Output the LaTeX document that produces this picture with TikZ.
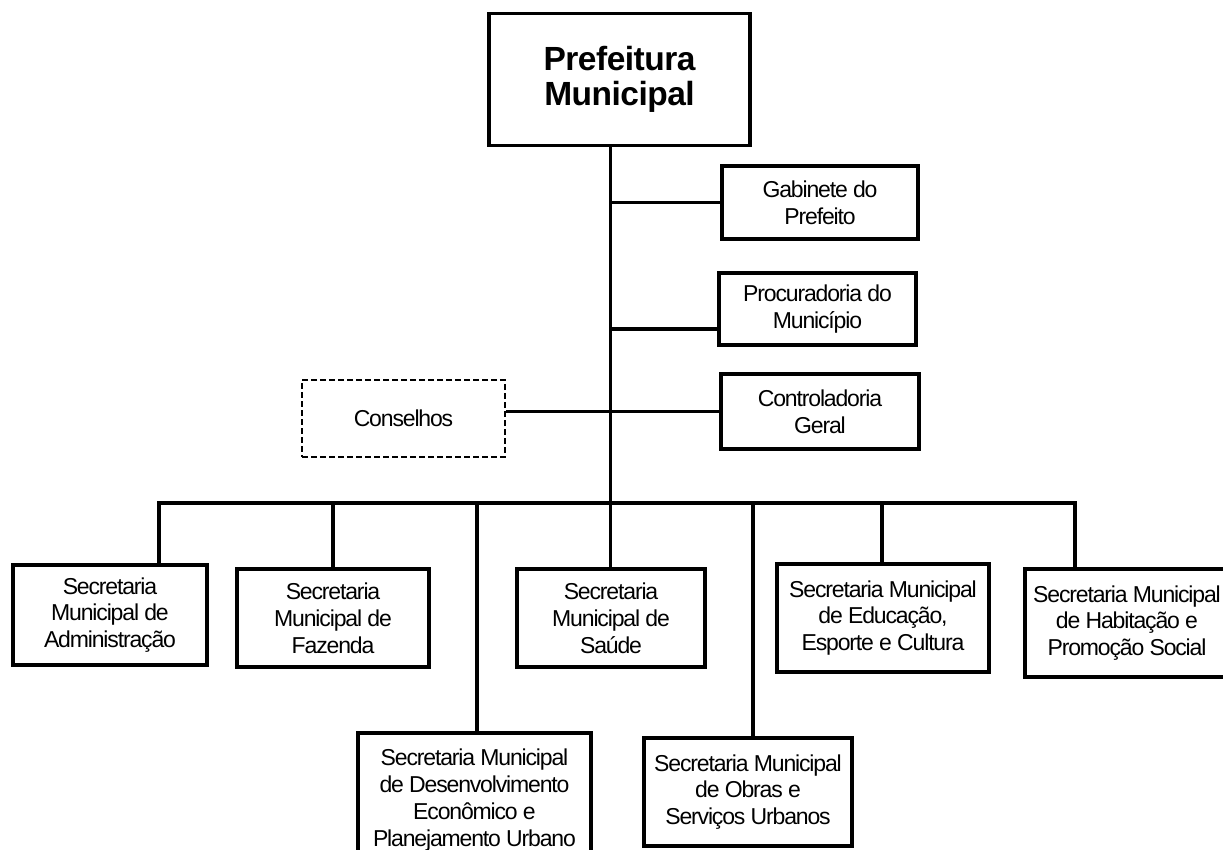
\documentclass[tikz,border=0pt]{standalone}
\usepackage{fontspec}
\newfontfamily\orgfont{Liberation Sans}[LetterSpace=-5]
\newfontfamily\orgheadfont{Liberation Sans}[LetterSpace=-1.5]
\begin{document}
\begin{tikzpicture}[x=1pt,y=-1pt,
  unitbox/.style={draw=black, line width=3.2pt, fill=white, inner sep=0pt, align=center,
    font=\orgfont\fontsize{23}{26.8}\selectfont},
  headbox/.style={unitbox, line width=3.8pt,
    font=\orgheadfont\bfseries\fontsize{33.5}{35}\selectfont},
  councilbox/.style={unitbox, line width=1.5pt, dash pattern=on 6pt off 3pt},
  conn/.style={draw=black, line width=3.2pt}]
\useasboundingbox (0,0) rectangle (1223,850);
\clip (0,0) rectangle (1223,850);

% boxes
\node[headbox, minimum width=261pt, minimum height=132pt] (pref) at (619.5,79.5) {Prefeitura\\Municipal};
\node[unitbox, minimum width=196pt, minimum height=73pt] (gab) at (820,202.5) {Gabinete do\\Prefeito};
\node[unitbox, minimum width=197pt, minimum height=72pt] (proc) at (817.5,309) {Procuradoria do\\Município};
\node[unitbox, minimum width=198pt, minimum height=75pt] (ctrl) at (820,411.5) {Controladoria\\Geral};
\node[councilbox, minimum width=203pt, minimum height=77pt] (cons) at (403.5,418.5) {Conselhos};

\node[unitbox, minimum width=194pt, minimum height=100pt] (adm) at (110,615) {Secretaria\\Municipal de\\Administração};
\node[unitbox, minimum width=192pt, minimum height=98pt] (faz) at (333,618) {Secretaria\\Municipal de\\Fazenda};
\node[unitbox, minimum width=188pt, minimum height=98pt] (sau) at (611,618) {Secretaria\\Municipal de\\Saúde};
\node[unitbox, minimum width=212pt, minimum height=108pt] (edu) at (883,618) {Secretaria Municipal\\de Educação,\\Esporte e Cultura};
\node[unitbox, minimum width=204pt, minimum height=108pt] (hab) at (1127,623) {Secretaria Municipal\\de Habitação e\\Promoção Social};
\node[unitbox, minimum width=233pt, minimum height=134pt] (des) at (474.5,800) {Secretaria Municipal\\de Desenvolvimento\\Econômico e\\Planejamento Urbano};
\node[unitbox, minimum width=208pt, minimum height=108pt] (obr) at (748,792) {Secretaria Municipal\\de Obras e\\Serviços Urbanos};

% junction points on the distribution bar
\coordinate (trunk) at (610.5,503);
\coordinate (badm) at (159,503);
\coordinate (bfaz) at (333,503);
\coordinate (bdes) at (477,503);
\coordinate (bobr) at (753,503);
\coordinate (bedu) at (882,503);
\coordinate (bhab) at (1075,503);
\coordinate (procjoin) at ([yshift=-20pt]proc.west);

% connectors
\draw[conn] (pref.south -| trunk) -- (sau.north -| trunk);
\draw[conn] (gab.west -| trunk) -- (gab.west);
\draw[conn] (procjoin -| trunk) -- (procjoin);
\draw[conn] (cons.east |- ctrl.west) -- (ctrl.west);
\draw[conn] (adm.north -| badm) -- (badm) -- (bhab) -- (hab.north -| bhab);
\draw[conn] (bfaz) -- (faz.north -| bfaz);
\draw[conn] (bdes) -- (des.north -| bdes);
\draw[conn] (bobr) -- (obr.north -| bobr);
\draw[conn] (bedu) -- (edu.north -| bedu);
\end{tikzpicture}
\end{document}
